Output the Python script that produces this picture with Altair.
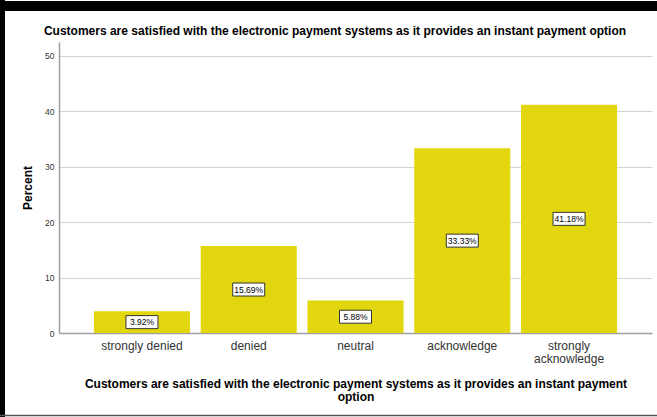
import altair as alt
import pandas as pd

categories = ["strongly denied", "denied", "neutral", "acknowledge", "strongly acknowledge"]
percents = [3.92, 15.69, 5.88, 33.33, 41.18]
labels = ["3.92%", "15.69%", "5.88%", "33.33%", "41.18%"]
y_ticks = [0, 10, 20, 30, 40, 50]

chart_title = "Customers are satisfied with the electronic payment systems as it provides an instant payment option"
x_title = ["Customers are satisfied with the electronic payment systems as it provides an instant payment", "option"]

df = pd.DataFrame({"cat": categories, "pct": percents, "label": labels})
FONT = "Liberation Sans"

xscale = alt.Scale(paddingInner=0.1, paddingOuter=0.327)
yscale = alt.Scale(domain=[0, 52.5], nice=False)

x_axis = alt.Axis(
    labelAngle=0, ticks=False,
    labelExpr="datum.label == 'strongly acknowledge' ? ['strongly', 'acknowledge'] : datum.label",
    labelFont=FONT, labelFontSize=12, labelColor="#333333", labelPadding=7, labelLineHeight=13,
    titleFont=FONT, titleFontSize=12, titleFontWeight="bold", titleColor="#000000",
    titlePadding=14, titleLineHeight=13,
    domainColor="#a0a0a0", domainWidth=1.5,
)
y_axis = alt.Axis(
    values=y_ticks, ticks=False, grid=True, gridColor="#d4d4d4", gridWidth=1,
    domainColor="#a0a0a0", domainWidth=1.5,
    labelFont=FONT, labelFontSize=8.5, labelColor="#333333", labelPadding=5,
    titleFont=FONT, titleFontSize=12, titleFontWeight="bold", titleColor="#000000",
    titlePadding=10,
)

x_enc = alt.X("cat:N", sort=categories, title=x_title, scale=xscale, axis=x_axis)
y_enc = alt.Y("pct:Q", scale=yscale, title="Percent", axis=y_axis)

bars = alt.Chart(df).mark_bar(color="#E2D70E").encode(x=x_enc, y=y_enc)

mid_y = alt.Y("mid:Q", scale=yscale, title="Percent", axis=y_axis)

boxes = alt.Chart(df).transform_calculate(mid="datum.pct / 2").mark_rect(
    width=32, height=13, fill="white", stroke="#333333", strokeWidth=1
).encode(x=x_enc, y=mid_y)

texts = alt.Chart(df).transform_calculate(mid="datum.pct / 2").mark_text(
    font=FONT, fontSize=8.5, color="#000000", baseline="middle", align="center"
).encode(x=x_enc, y=mid_y, text="label:N")

frame_df = pd.DataFrame({"t": [chart_title]})
title_text = alt.Chart(frame_df).mark_text(
    font=FONT, fontSize=12, fontWeight="bold", color="#000000", align="center", baseline="middle"
).encode(x=alt.value(276), y=alt.value(-11.5), text="t:N")
top_bar = alt.Chart(frame_df).mark_rule(color="black", strokeWidth=10).encode(
    x=alt.value(-59), x2=alt.value(598), y=alt.value(-36)
)
left_bar = alt.Chart(frame_df).mark_rule(color="black", strokeWidth=5).encode(
    x=alt.value(-56.5), y=alt.value(-42), y2=alt.value(375)
)
bottom_line = alt.Chart(frame_df).mark_rule(color="#555555", strokeWidth=1.5).encode(
    x=alt.value(-59), x2=alt.value(598), y=alt.value(373.5)
)

chart = alt.layer(bars, boxes, texts, title_text, top_bar, left_bar, bottom_line).properties(
    width=593, height=291,
    autosize=alt.AutoSizeParams(type="none"),
    padding={"left": 59, "top": 42, "right": 5, "bottom": 84},
    background="white",
).configure_view(stroke=None)

chart.save("out.html", embed_options={"renderer": "svg", "actions": False})
